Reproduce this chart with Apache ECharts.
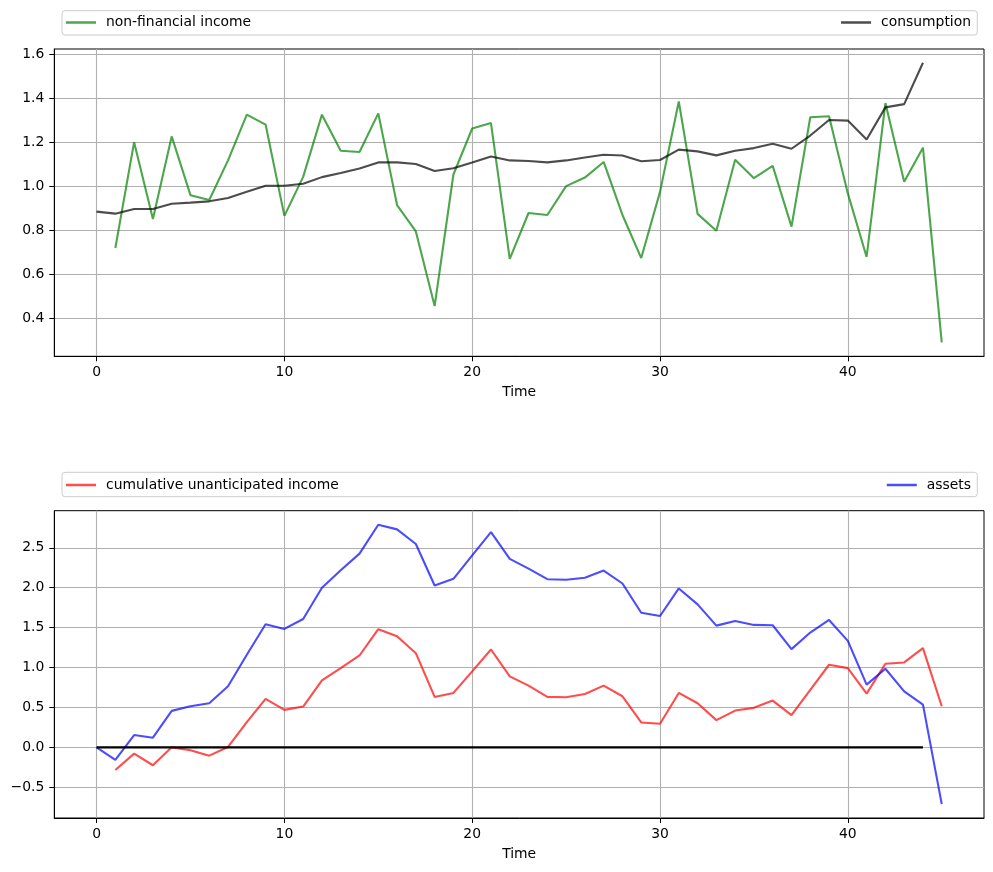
<!DOCTYPE html>
<html>
<head>
<meta charset="utf-8">
<script src="https://cdn.jsdelivr.net/npm/echarts@6/dist/echarts.min.js"></script>
<style>
html,body{margin:0;padding:0;background:#fff;}
#main{width:993px;height:872px;}
</style>
</head>
<body>
<div id="main"></div>
<script>
// ---- data ----
var incomeStart = 1;
var income = [0.719,1.200,0.851,1.226,0.959,0.937,1.117,1.325,1.280,0.865,
              1.042,1.325,1.161,1.155,1.331,0.914,0.794,0.455,1.053,1.262,
              1.287,0.669,0.878,0.869,1.000,1.039,1.110,0.869,0.673,0.974,
              1.385,0.874,0.797,1.120,1.036,1.092,0.816,1.313,1.318,0.967,
              0.678,1.378,1.020,1.175,0.290];
var consumptionStart = 0;
var consumption = [0.884,0.875,0.896,0.896,0.920,0.925,0.931,0.946,0.974,1.002,
                   1.002,1.011,1.041,1.060,1.080,1.108,1.108,1.101,1.069,1.081,
                   1.107,1.135,1.117,1.114,1.108,1.117,1.130,1.143,1.139,1.113,
                   1.119,1.166,1.158,1.140,1.161,1.173,1.193,1.170,1.230,1.301,
                   1.298,1.212,1.358,1.373,1.561];
var cumulativeStart = 1;
var cumulative = [-0.283,-0.079,-0.224,0.000,-0.037,-0.104,0.005,0.316,0.607,0.470,
                  0.511,0.839,0.993,1.151,1.480,1.392,1.180,0.632,0.682,0.952,
                  1.226,0.889,0.773,0.632,0.628,0.669,0.773,0.640,0.312,0.295,
                  0.682,0.553,0.341,0.461,0.495,0.586,0.403,0.719,1.035,0.993,
                  0.673,1.047,1.064,1.243,0.515];
var assetsStart = 0;
var assets = [0.000,-0.158,0.154,0.121,0.457,0.515,0.553,0.765,1.160,1.542,
              1.484,1.608,1.999,2.219,2.427,2.789,2.731,2.548,2.028,2.111,
              2.406,2.697,2.361,2.240,2.107,2.100,2.124,2.215,2.053,1.687,
              1.646,1.991,1.791,1.525,1.584,1.534,1.530,1.231,1.438,1.596,
              1.334,0.786,0.985,0.702,0.536,-0.711];
var zeroLineStart = 0;
var zeroLine = [0,0,0,0,0,0,0,0,0,0,0,0,0,0,0,0,0,0,0,0,0,0,0,0,0,0,0,0,0,0,
                0,0,0,0,0,0,0,0,0,0,0,0,0,0,0];
var xTicks = [0,10,20,30,40];
var yTicksTop = [0.4,0.6,0.8,1.0,1.2,1.4,1.6];
var yTicksBottom = [-0.5,0.0,0.5,1.0,1.5,2.0,2.5];

function pairs(start, vals){ return vals.map(function(v,i){ return [start+i, v]; }); }

var FONT = 'DejaVu Sans';
var FS = 13.9;
var grids = [
  {left:54.3, top:49, right:9, height:307.3},
  {left:54.3, top:510.7, right:9, height:307.3}
];
function fmt(v){ return v.toFixed(1).replace('-', '\u2212'); }

function xAxis(gi){
  return {
    type:'value', gridIndex:gi, min:-2.25, max:47.25,
    name:'Time', nameLocation:'middle', nameGap:29,
    nameTextStyle:{fontFamily:FONT, fontSize:FS, color:'#000'},
    axisLine:{show:true, onZero:false, lineStyle:{color:'#000', width:1}},
    axisTick:{show:true, length:5, lineStyle:{color:'#000', width:1}, customValues:xTicks},
    axisLabel:{fontFamily:FONT, fontSize:FS, color:'#000', margin:9, customValues:xTicks,
               formatter:function(v){return String(v);}},
    splitLine:{show:true, lineStyle:{color:'#b0b0b0', width:1.1}}
  };
}
function yAxis(gi, mn, mx, ticks){
  return {
    type:'value', gridIndex:gi, min:mn, max:mx,
    axisLine:{show:true, onZero:false, lineStyle:{color:'#000', width:1}},
    axisTick:{show:true, length:5, lineStyle:{color:'#000', width:1}, customValues:ticks},
    axisLabel:{fontFamily:FONT, fontSize:FS, color:'#000', margin:10, customValues:ticks,
               formatter:fmt},
    splitLine:{show:true, lineStyle:{color:'#b0b0b0', width:1.1}}
  };
}
function lineSeries(name, gi, data, color, z, w){
  return {
    name:name, type:'line', xAxisIndex:gi, yAxisIndex:gi, data:data,
    showSymbol:false, symbol:'none', smooth:false, animation:false, z:z,
    lineStyle:{color:color, width:w || 2.1}, itemStyle:{color:color},
    emphasis:{disabled:true}
  };
}
var legendCommon = {
  orient:'horizontal',
  icon:'path://M0,0h30v2.5h-30z M34.99,0h0.01v2.5h-0.01z',
  itemWidth:35, itemHeight:2.5, padding:0,
  textStyle:{fontFamily:FONT, fontSize:FS, color:'#000'}, selectedMode:false
};
function legend(name, pos, top){
  var l = Object.assign({}, legendCommon, {data:[name], top:top});
  Object.assign(l, pos);
  return l;
}

var green = 'rgba(0,128,0,0.7)';
var black = 'rgba(0,0,0,0.7)';
var red = 'rgba(255,0,0,0.7)';
var blue = 'rgba(0,0,255,0.7)';

var option = {
  backgroundColor:'#fff',
  animation:false,
  grid:grids.map(function(g){ return Object.assign({show:true, borderColor:'#000', borderWidth:1, containLabel:false}, g); }),
  xAxis:[xAxis(0), xAxis(1)],
  yAxis:[yAxis(0, 0.2265, 1.6235, yTicksTop), yAxis(1, -0.885, 2.965, yTicksBottom)],
  legend:[
    legend('non-financial income', {left:66}, 15.5),
    legend('consumption', {right:22}, 15.5),
    legend('cumulative unanticipated income', {left:66}, 478),
    legend('assets', {right:22}, 478)
  ],
  graphic:[
    {type:'rect', z:-1, shape:{x:62, y:10.7, width:915.3, height:24.3, r:3},
     style:{fill:'rgba(255,255,255,0.8)', stroke:'#cccccc', lineWidth:1}},
    {type:'rect', z:-1, shape:{x:62, y:472.3, width:915.3, height:24.4, r:3},
     style:{fill:'rgba(255,255,255,0.8)', stroke:'#cccccc', lineWidth:1}}
  ],
  series:[
    lineSeries('non-financial income', 0, pairs(incomeStart, income), green, 2),
    lineSeries('consumption', 0, pairs(consumptionStart, consumption), black, 3),
    lineSeries('cumulative unanticipated income', 1, pairs(cumulativeStart, cumulative), red, 2),
    lineSeries('assets', 1, pairs(assetsStart, assets), blue, 3),
    lineSeries('zero', 1, pairs(zeroLineStart, zeroLine), '#000', 4, 2.2)
  ]
};
var chart = echarts.init(document.getElementById('main'), null, {renderer:'canvas'});
chart.setOption(option);
</script>
</body>
</html>
